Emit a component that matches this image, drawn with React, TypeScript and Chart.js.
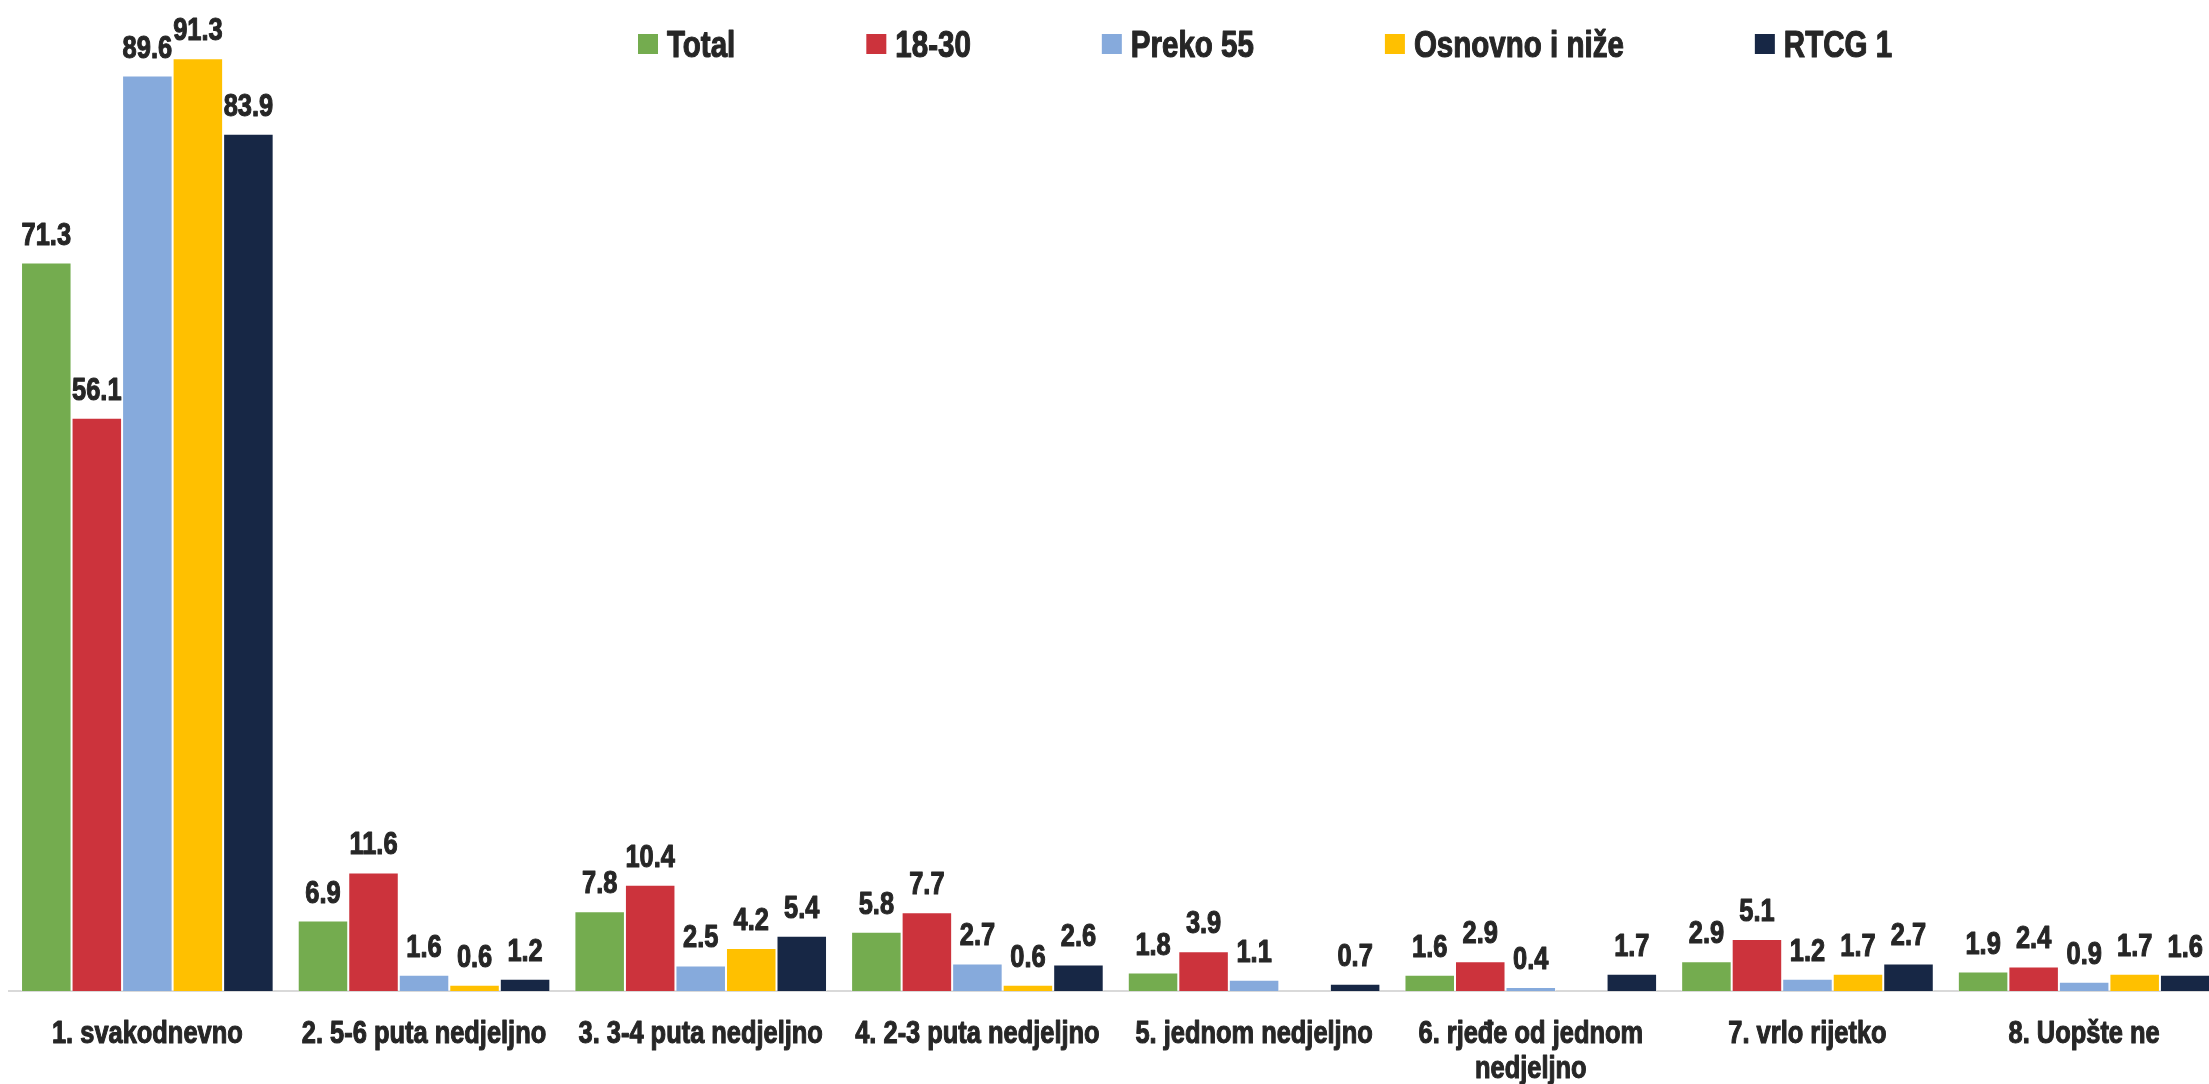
import React, { useEffect, useRef } from "react";
import { Chart, registerables } from "chart.js";

Chart.register(...registerables);

const categories: (string | string[])[] = [
  "1. svakodnevno",
  "2. 5-6 puta nedjeljno",
  "3. 3-4 puta nedjeljno",
  "4. 2-3 puta nedjeljno",
  "5. jednom nedjeljno",
  ["6. rjeđe od jednom", "nedjeljno"],
  "7. vrlo rijetko",
  "8. Uopšte ne",
];

const seriesNames = ["Total", "18-30", "Preko 55", "Osnovno i niže", "RTCG 1"];

const totalValues = [71.3, 6.9, 7.8, 5.8, 1.8, 1.6, 2.9, 1.9];
const age1830Values = [56.1, 11.6, 10.4, 7.7, 3.9, 2.9, 5.1, 2.4];
const preko55Values = [89.6, 1.6, 2.5, 2.7, 1.1, 0.4, 1.2, 0.9];
const osnovnoValues: (number | null)[] = [91.3, 0.6, 4.2, 0.6, null, null, 1.7, 1.7];
const rtcgValues = [83.9, 1.2, 5.4, 2.6, 0.7, 1.7, 2.7, 1.6];

const seriesColors = ["#74AC4F", "#CC333C", "#86AADC", "#FFC000", "#172745"];

const FONT = '"Liberation Sans", Arial, sans-serif';
const TEXT_COLOR = "#262626";
const NARROW = 0.82;

function drawNarrow(ctx: any, text: string, x: number, y: number, align: string) {
  ctx.save();
  ctx.translate(x, y);
  ctx.scale(NARROW, 1);
  ctx.textAlign = align;
  ctx.textBaseline = "alphabetic";
  ctx.lineJoin = "round";
  ctx.lineWidth = 1.1;
  ctx.strokeStyle = ctx.fillStyle;
  ctx.strokeText(text, 0, 0);
  ctx.fillText(text, 0, 0);
  ctx.restore();
}

const dataLabelPlugin = {
  id: "dataLabels",
  afterDatasetsDraw(chart: any) {
    const ctx = chart.ctx;
    ctx.save();
    ctx.font = `bold 31px ${FONT}`;
    ctx.fillStyle = TEXT_COLOR;
    chart.data.datasets.forEach((ds: any, i: number) => {
      const meta = chart.getDatasetMeta(i);
      meta.data.forEach((el: any, j: number) => {
        const v = ds.data[j];
        if (v === null || v === undefined) return;
        drawNarrow(ctx, Number(v).toFixed(1), el.x, el.y - 18, "center");
      });
    });
    ctx.restore();
  },
};

const xLabelPlugin = {
  id: "xLabels",
  afterDraw(chart: any) {
    const ctx = chart.ctx;
    const scale = chart.scales.x;
    ctx.save();
    ctx.font = `bold 31px ${FONT}`;
    ctx.fillStyle = TEXT_COLOR;
    const labels = chart.data.labels;
    labels.forEach((lab: any, i: number) => {
      const x = scale.getPixelForTick(i);
      const lines = Array.isArray(lab) ? lab : [lab];
      lines.forEach((line: string, k: number) => {
        drawNarrow(ctx, line, x, scale.top + 52 + k * 35, "center");
      });
    });
    ctx.restore();
  },
};

const legendPlugin = {
  id: "customLegend",
  afterDraw(chart: any) {
    const ctx = chart.ctx;
    ctx.save();
    ctx.font = `bold 36px ${FONT}`;
    let x = 638;
    const boxTop = 34;
    const box = 20;
    chart.data.datasets.forEach((ds: any) => {
      ctx.fillStyle = ds.backgroundColor;
      ctx.fillRect(x, boxTop, box, box);
      ctx.fillStyle = TEXT_COLOR;
      const tx = x + box + 9;
      drawNarrow(ctx, ds.label, tx, 57, "left");
      const w = ctx.measureText(ds.label).width * NARROW;
      x = tx + w + 131;
    });
    ctx.restore();
  },
};

export default function App() {
  const ref = useRef<HTMLCanvasElement | null>(null);

  useEffect(() => {
    if (!ref.current) return;
    const allValues = [totalValues, age1830Values, preko55Values, osnovnoValues, rtcgValues];
    const chart = new Chart(ref.current, {
      type: "bar",
      data: {
        labels: categories,
        datasets: seriesNames.map((name, i) => ({
          label: name,
          data: allValues[i],
          backgroundColor: seriesColors[i],
          borderColor: "rgba(255,255,255,0.55)",
          borderWidth: 1,
          barPercentage: 1,
          categoryPercentage: 0.913,
        })),
      },
      options: {
        animation: false,
        responsive: false,
        devicePixelRatio: 1,
        layout: { padding: { left: 9, right: 9.5, top: 0, bottom: 0 } },
        plugins: {
          legend: { display: false },
          tooltip: { enabled: false },
          title: { display: false },
        },
        scales: {
          x: {
            grid: { display: false, drawTicks: false },
            border: { display: true, color: "#D9D9D9", width: 2 },
            ticks: { display: false, autoSkip: false, maxRotation: 0, minRotation: 0 },
            afterFit: (s: any) => {
              s.height = 93;
            },
          },
          y: {
            display: false,
            min: 0,
            max: 97,
          },
        },
      },
      plugins: [dataLabelPlugin, xLabelPlugin, legendPlugin],
    } as any);
    return () => chart.destroy();
  }, []);

  return (
    <div
      style={{
        position: "fixed",
        left: 0,
        top: 0,
        width: 2209,
        height: 1084,
        overflow: "hidden",
        background: "#fff",
      }}
    >
      <canvas ref={ref} width={2232} height={1084} style={{ width: 2232, height: 1084, display: "block" }} />
    </div>
  );
}
